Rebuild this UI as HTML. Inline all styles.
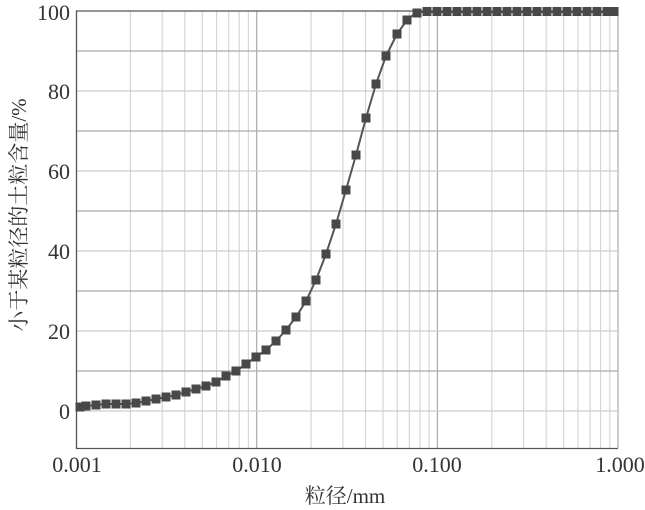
<!DOCTYPE html>
<html><head><meta charset="utf-8"><style>
html,body{margin:0;padding:0;background:#fff;}
svg{display:block;}
text{font-family:"Liberation Serif","Noto Serif CJK SC",serif;fill:#333;}
</style></head><body>
<svg width="645" height="510" viewBox="0 0 645 510" xmlns="http://www.w3.org/2000/svg">
<g stroke="#d6d6d6" stroke-width="1.2">
<line x1="130.4" y1="11" x2="130.4" y2="448"/><line x1="162.2" y1="11" x2="162.2" y2="448"/><line x1="184.8" y1="11" x2="184.8" y2="448"/><line x1="202.3" y1="11" x2="202.3" y2="448"/><line x1="216.6" y1="11" x2="216.6" y2="448"/><line x1="228.7" y1="11" x2="228.7" y2="448"/><line x1="239.2" y1="11" x2="239.2" y2="448"/><line x1="248.4" y1="11" x2="248.4" y2="448"/>
<line x1="311.1" y1="11" x2="311.1" y2="448"/><line x1="342.9" y1="11" x2="342.9" y2="448"/><line x1="365.5" y1="11" x2="365.5" y2="448"/><line x1="383" y1="11" x2="383" y2="448"/><line x1="397.3" y1="11" x2="397.3" y2="448"/><line x1="409.4" y1="11" x2="409.4" y2="448"/><line x1="419.9" y1="11" x2="419.9" y2="448"/><line x1="429.1" y1="11" x2="429.1" y2="448"/>
<line x1="491.8" y1="11" x2="491.8" y2="448"/><line x1="523.6" y1="11" x2="523.6" y2="448"/><line x1="546.2" y1="11" x2="546.2" y2="448"/><line x1="563.7" y1="11" x2="563.7" y2="448"/><line x1="578" y1="11" x2="578" y2="448"/><line x1="590.1" y1="11" x2="590.1" y2="448"/><line x1="600.6" y1="11" x2="600.6" y2="448"/><line x1="609.8" y1="11" x2="609.8" y2="448"/>
</g>
<g stroke="#aaa" stroke-width="1.2">
<line x1="256.7" y1="11" x2="256.7" y2="448"/><line x1="437.4" y1="11" x2="437.4" y2="448"/><line x1="618" y1="11" x2="618" y2="448"/>
<line x1="76" y1="51" x2="618" y2="51"/><line x1="76" y1="131" x2="618" y2="131"/><line x1="76" y1="211" x2="618" y2="211"/><line x1="76" y1="291" x2="618" y2="291"/><line x1="76" y1="371" x2="618" y2="371"/>
</g>
<g stroke="#cdcdcd" stroke-width="1.2">
<line x1="76" y1="91" x2="618" y2="91"/><line x1="76" y1="171" x2="618" y2="171"/><line x1="76" y1="251" x2="618" y2="251"/><line x1="76" y1="331" x2="618" y2="331"/><line x1="76" y1="411" x2="618" y2="411"/>
</g>
<path d="M618,11 H76.5 V448.5 H618" fill="none" stroke="#555" stroke-width="1.3"/>
<polyline fill="none" stroke="#555" stroke-width="2" points="80,407 86,406 96,405 106,404 116,404 126,404 136,403 146,401 156,399 166,397 176,395 186,392 196,389 206,386 216,382 226,376 236,371 246,364 256,357 266,350 276,341 286,330 296,317 306,301 316,280 326,254 336,224 346,190 356,155 366,118 376,84 386,56 397,34 407,20 417,12 614,12"/>
<g fill="#484848">
<rect x="75.5" y="402.5" width="9" height="9"/><rect x="81.5" y="401.5" width="9" height="9"/><rect x="91.5" y="400.5" width="9" height="9"/><rect x="101.5" y="399.5" width="9" height="9"/><rect x="111.5" y="399.5" width="9" height="9"/><rect x="121.5" y="399.5" width="9" height="9"/><rect x="131.5" y="398.5" width="9" height="9"/><rect x="141.5" y="396.5" width="9" height="9"/><rect x="151.5" y="394.5" width="9" height="9"/><rect x="161.5" y="392.5" width="9" height="9"/><rect x="171.5" y="390.5" width="9" height="9"/><rect x="181.5" y="387.5" width="9" height="9"/><rect x="191.5" y="384.5" width="9" height="9"/><rect x="201.5" y="381.5" width="9" height="9"/><rect x="211.5" y="377.5" width="9" height="9"/><rect x="221.5" y="371.5" width="9" height="9"/><rect x="231.5" y="366.5" width="9" height="9"/><rect x="241.5" y="359.5" width="9" height="9"/><rect x="251.5" y="352.5" width="9" height="9"/><rect x="261.5" y="345.5" width="9" height="9"/><rect x="271.5" y="336.5" width="9" height="9"/><rect x="281.5" y="325.5" width="9" height="9"/><rect x="291.5" y="312.5" width="9" height="9"/><rect x="301.5" y="296.5" width="9" height="9"/><rect x="311.5" y="275.5" width="9" height="9"/><rect x="321.5" y="249.5" width="9" height="9"/><rect x="331.5" y="219.5" width="9" height="9"/><rect x="341.5" y="185.5" width="9" height="9"/><rect x="351.5" y="150.5" width="9" height="9"/><rect x="361.5" y="113.5" width="9" height="9"/><rect x="371.5" y="79.5" width="9" height="9"/><rect x="381.5" y="51.5" width="9" height="9"/><rect x="392.5" y="29.5" width="9" height="9"/><rect x="402.5" y="15.5" width="9" height="9"/><rect x="412.5" y="8.5" width="9" height="9"/>
<rect x="422.5" y="7" width="9" height="9"/><rect x="432.5" y="7" width="9" height="9"/><rect x="442.5" y="7" width="9" height="9"/><rect x="452.5" y="7" width="9" height="9"/><rect x="462.5" y="7" width="9" height="9"/><rect x="472.5" y="7" width="9" height="9"/><rect x="482.5" y="7" width="9" height="9"/><rect x="492.5" y="7" width="9" height="9"/><rect x="502.5" y="7" width="9" height="9"/><rect x="512.5" y="7" width="9" height="9"/><rect x="522.5" y="7" width="9" height="9"/><rect x="532.5" y="7" width="9" height="9"/><rect x="542.5" y="7" width="9" height="9"/><rect x="552.5" y="7" width="9" height="9"/><rect x="562.5" y="7" width="9" height="9"/><rect x="572.5" y="7" width="9" height="9"/><rect x="582.5" y="7" width="9" height="9"/><rect x="592.5" y="7" width="9" height="9"/><rect x="602.5" y="7" width="9" height="9"/><rect x="609.5" y="7" width="9" height="9"/>
</g>
<g font-size="22" text-anchor="end">
<text x="70" y="20">100</text><text x="70" y="99">80</text><text x="70" y="179">60</text>
<text x="70" y="259">40</text><text x="70" y="339">20</text><text x="70" y="419">0</text>
</g>
<g font-size="22" text-anchor="middle">
<text x="77" y="472">0.001</text><text x="257" y="472">0.010</text><text x="437" y="472">0.100</text><text x="620" y="472">1.000</text>
</g>
<text x="345" y="503" font-size="21" text-anchor="middle">粒径/mm</text>
<text transform="translate(26,215) rotate(-90)" font-size="21" text-anchor="middle">小于某粒径的土粒含量/%</text>
</svg>
</body></html>
